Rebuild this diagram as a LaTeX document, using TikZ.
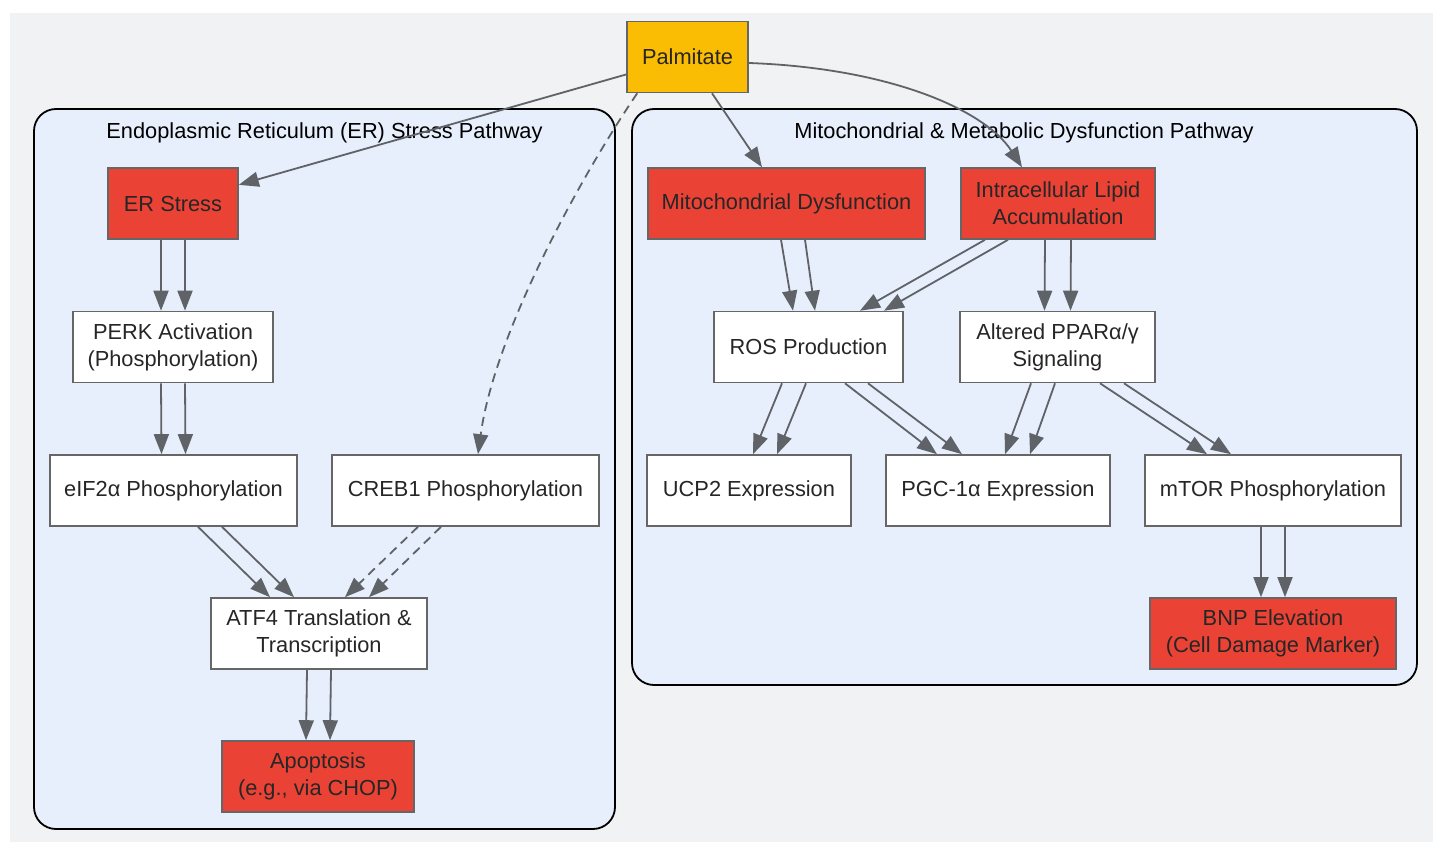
\documentclass[tikz,border=0pt]{standalone}
\usepackage{fontspec}
\setmainfont{Liberation Sans}
\usepackage{tikz}
\usetikzlibrary{arrows.meta}
\usetikzlibrary{calc}
\definecolor{bggray}{HTML}{F1F2F4}
\definecolor{clusblue}{HTML}{E8EFFC}
\definecolor{hitred}{HTML}{EA4335}
\definecolor{palmgold}{HTML}{FBBC04}
\definecolor{edgegray}{HTML}{5F6368}
\definecolor{boxgray}{HTML}{666666}
\definecolor{txtgray}{HTML}{262626}
\tikzstyle{box}=[draw=boxgray,line width=1.6pt,fill=white,minimum height=71pt,inner sep=0pt,align=center,text=txtgray,font=\fontsize{21.8}{27}\selectfont]
\tikzstyle{hit}=[box,fill=hitred]
\tikzstyle{src}=[box,fill=palmgold]
\tikzstyle{clus}=[draw=black,line width=1.8pt,fill=clusblue,rounded corners=22pt]
\tikzstyle{ttl}=[text=black,font=\fontsize{21.8}{27}\selectfont]
\tikzstyle{arr}=[draw=edgegray,line width=1.8pt,-{Triangle[length=20pt,width=15pt]}]
\tikzstyle{darr}=[arr,dash pattern=on 9pt off 6pt]

\begin{document}
\begin{tikzpicture}[x=1pt,y=-1pt]
\useasboundingbox (0,0) rectangle (1433,842);
\fill[bggray] (10,13) rectangle (1433,842);

\draw[clus] (34,109) rectangle (615,829);
\draw[clus] (632,109) rectangle (1417,685);
\node[ttl] (ertitle) at (324.5,132.5) {Endoplasmic Reticulum (ER) Stress Pathway};
\node[ttl] (mitotitle) at (1024,132.5) {Mitochondrial \& Metabolic Dysfunction Pathway};

\node[src, minimum width=121pt] (palm) at (687.5,57) {Palmitate};

\node[hit, minimum width=130pt] (ers) at (173,203.5) {ER Stress};
\node[box, minimum width=200pt] (perk) at (173,347) {PERK Activation\\(Phosphorylation)};
\node[box, minimum width=247pt] (eif) at (173.5,490.5) {eIF2α Phosphorylation};
\node[box, minimum width=267pt] (creb) at (465.5,490.5) {CREB1 Phosphorylation};
\node[box, minimum width=216pt] (atf) at (319,633.5) {ATF4 Translation \&\\Transcription};
\node[hit, minimum width=192pt] (apo) at (318,776.5) {Apoptosis\\(e.g., via CHOP)};

\node[hit, minimum width=277pt] (mito) at (786.5,203.5) {Mitochondrial Dysfunction};
\node[hit, minimum width=194pt] (lipid) at (1058,203.5) {Intracellular Lipid\\Accumulation};
\node[box, minimum width=189pt] (ros) at (808.5,347) {ROS Production};
\node[box, minimum width=195pt] (ppar) at (1057.5,347) {Altered PPARα/γ\\Signaling};
\node[box, minimum width=204pt] (ucp) at (749,490.5) {UCP2 Expression};
\node[box, minimum width=224pt] (pgc) at (998,490.5) {PGC-1α Expression};
\node[box, minimum width=256pt] (mtor) at (1273,490.5) {mTOR Phosphorylation};
\node[hit, minimum width=246pt] (bnp) at (1273,633.5) {BNP Elevation\\(Cell Damage Marker)};

\draw[arr] (palm) -- (ers);
\draw[darr] ($(palm.south west)+(11,0)$) .. controls (585,170) and (495,330) .. ($(creb.north)+(12.5,0)$);
\draw[arr] (palm) -- (mito);
\draw[arr] ($(palm.east)+(0,6)$) .. controls (890,68) and (985,110) .. ($(lipid.north)+(-36,0)$);

\draw[arr] ($(ers.south)+(-12,0)$) -- ($(perk.north)+(-12,0)$);
\draw[arr] ($(ers.south)+(12,0)$) -- ($(perk.north)+(12,0)$);
\draw[arr] ($(perk.south)+(-12,0)$) -- ($(eif.north)+(-12,0)$);
\draw[arr] ($(perk.south)+(12,0)$) -- ($(eif.north)+(12,0)$);
\draw[arr] ($(eif.south)+(24.5,0)$) -- ($(atf.north)+(-49,0)$);
\draw[arr] ($(eif.south)+(48.5,0)$) -- ($(atf.north)+(-25,0)$);
\draw[darr] ($(creb.south)+(-47.5,0)$) -- ($(atf.north)+(26,0)$);
\draw[darr] ($(creb.south)+(-24.5,0)$) -- ($(atf.north)+(50,0)$);
\draw[arr] ($(atf.south)+(-12,0)$) -- ($(apo.north)+(-12,0)$);
\draw[arr] ($(atf.south)+(12,0)$) -- ($(apo.north)+(12,0)$);

\draw[arr] ($(mito.south)+(-5.5,0)$) -- ($(ros.north)+(-15.5,0)$);
\draw[arr] ($(mito.south)+(18.5,0)$) -- ($(ros.north)+(6.5,0)$);
\draw[arr] ($(lipid.south)+(-73,0)$) -- ($(ros.north)+(51.5,0)$);
\draw[arr] ($(lipid.south)+(-50,0)$) -- ($(ros.north)+(75.5,0)$);
\draw[arr] ($(lipid.south)+(-13,0)$) -- ($(ppar.north)+(-13,0)$);
\draw[arr] ($(lipid.south)+(13,0)$) -- ($(ppar.north)+(13,0)$);
\draw[arr] ($(ros.south)+(-26.5,0)$) -- ($(ucp.north)+(4,0)$);
\draw[arr] ($(ros.south)+(-2.5,0)$) -- ($(ucp.north)+(28,0)$);
\draw[arr] ($(ros.south)+(36.5,0)$) -- ($(pgc.north)+(-61,0)$);
\draw[arr] ($(ros.south)+(59.5,0)$) -- ($(pgc.north)+(-36,0)$);
\draw[arr] ($(ppar.south)+(-26.5,0)$) -- ($(pgc.north)+(7,0)$);
\draw[arr] ($(ppar.south)+(-2.5,0)$) -- ($(pgc.north)+(32,0)$);
\draw[arr] ($(ppar.south)+(42.5,0)$) -- ($(mtor.north)+(-66,0)$);
\draw[arr] ($(ppar.south)+(66.5,0)$) -- ($(mtor.north)+(-42,0)$);
\draw[arr] ($(mtor.south)+(-12,0)$) -- ($(bnp.north)+(-12,0)$);
\draw[arr] ($(mtor.south)+(12,0)$) -- ($(bnp.north)+(12,0)$);

\end{tikzpicture}
\end{document}
